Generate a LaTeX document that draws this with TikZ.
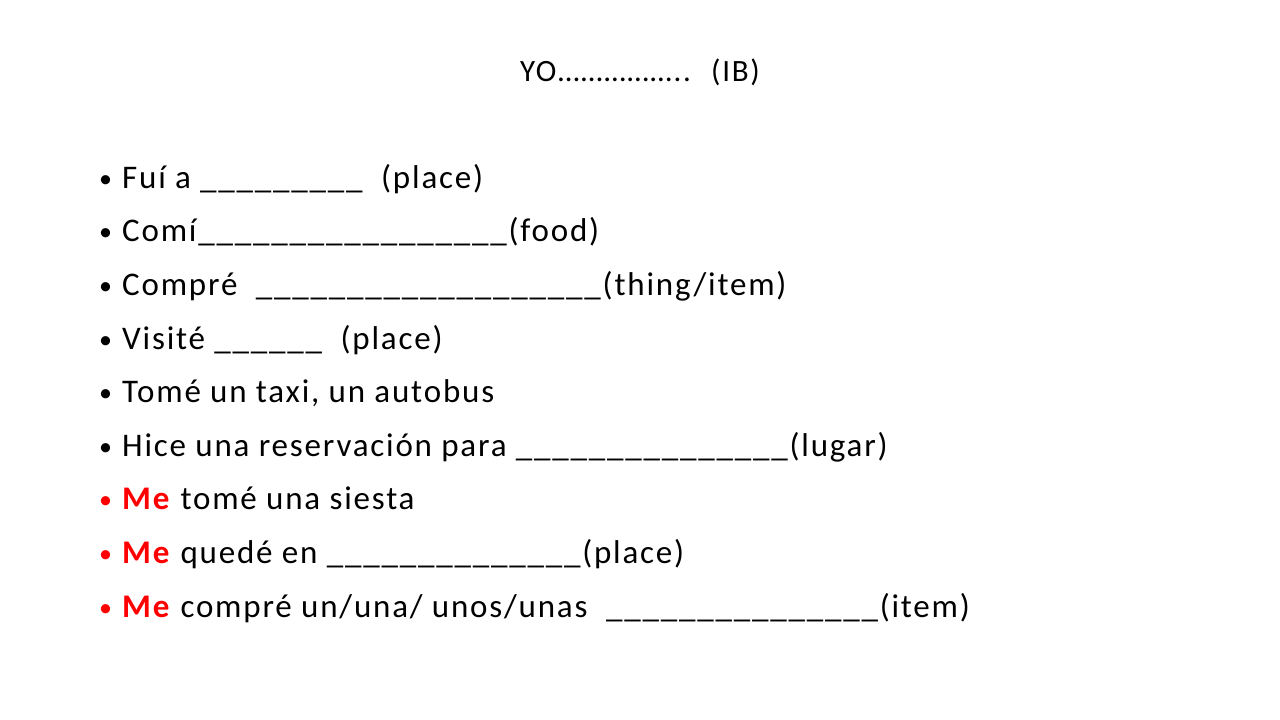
\documentclass[tikz,border=0pt]{standalone}
\usepackage{fontspec}
\setmainfont{Carlito}[LetterSpace=5.5]
\definecolor{mered}{RGB}{255,0,0}
\newcommand{\me}{\textcolor{mered}{\textbf{Me}}}
\newcommand{\uu}[1]{\foreach \i in {1,...,#1}{\_}}
\begin{document}
\begin{tikzpicture}[x=1pt,y=-1pt,
  line/.style={anchor=base west,inner sep=0pt,font=\fontsize{33}{38}\selectfont},
  bul/.style={anchor=base west,inner sep=0pt,font=\fontsize{26}{38}\selectfont}]
\useasboundingbox (0,0) rectangle (1280,720);
\node[inner sep=0pt,anchor=base,font=\fontsize{31}{36}\selectfont] (t) at (640,81) {YO…………….. \ (IB)};
\node[bul] (b1) at (99,187) {•}; \node[line] (l1) at (122,188) {Fuí a \uu{9}\ \ (place)};
\node[bul] (b2) at (99,240) {•}; \node[line] (l2) at (122,241) {Comí\uu{17}(food)};
\node[bul] (b3) at (99,294) {•}; \node[line] (l3) at (122,295) {Compré \ \uu{19}(thing/item)};
\node[bul] (b4) at (99,348) {•}; \node[line] (l4) at (122,349) {Visité \uu{6} \ (place)};
\node[bul] (b5) at (99,401) {•}; \node[line] (l5) at (122,402) {Tomé un taxi, un autobus};
\node[bul] (b6) at (99,455) {•}; \node[line] (l6) at (122,456) {Hice una reservación para \uu{15}(lugar)};
\node[bul,text=mered] (b7) at (99,508) {•}; \node[line] (l7) at (122,509) {\me{} tomé una siesta};
\node[bul,text=mered] (b8) at (99,562) {•}; \node[line] (l8) at (122,563) {\me{} quedé en \uu{14}(place)};
\node[bul,text=mered] (b9) at (99,616) {•}; \node[line] (l9) at (122,617) {\me{} compré un/una/ unos/unas \ \uu{15}(item)};
\end{tikzpicture}
\end{document}
